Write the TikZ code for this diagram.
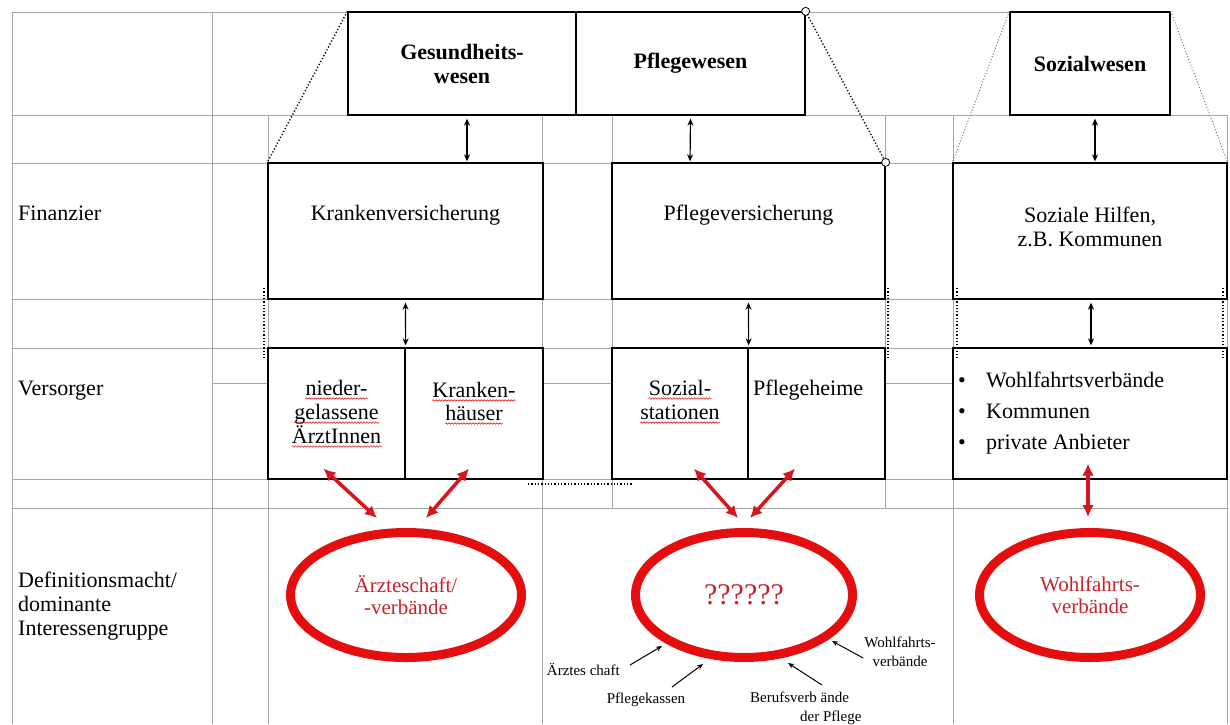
\documentclass[tikz,border=0pt]{standalone}
\usepackage{fontspec}
\setmainfont{Liberation Serif}
\usetikzlibrary{arrows.meta,shapes.geometric,decorations.pathmorphing}
\definecolor{ovred}{RGB}{228,14,14}
\definecolor{arrred}{RGB}{214,22,30}
\definecolor{txtred}{RGB}{200,34,42}
\tikzset{
  tabline/.style={black!35, line width=0.9pt},
  box/.style={draw, line width=1.3pt, inner sep=0pt},
  lbl/.style={font=\fontsize{22}{24}\selectfont, inner sep=0pt},
  hd/.style={font=\fontsize{22}{24}\selectfont\bfseries, align=center},
  sm/.style={font=\fontsize{15}{19}\selectfont, inner sep=0pt},
  ov/.style={ellipse, draw=ovred, line width=9pt, inner sep=0pt, text=txtred, align=center, font=\fontsize{21}{22}\selectfont},
  rarr/.style={arrred, line width=3.5pt, <->, >={Latex[length=12pt,width=12pt]}},
  dbl/.style={line width=1.2pt, <->, >={Stealth[length=7pt,width=6pt]}},
  sarr/.style={line width=1pt, ->, >={Stealth[length=6pt,width=5pt]}},
  dotln/.style={line width=1.3pt, dotted},
  lightdot/.style={black!55, line width=1pt, dotted},
  squig/.style={red!85!black, line width=0.5pt, decorate, decoration={snake, amplitude=0.8pt, segment length=3pt}}
}
\begin{document}
\begin{tikzpicture}[x=1pt, y=-1pt]
	%\draw[help lines] (0,0) grid[step=50] (1230,724);
	\useasboundingbox (0,0) rectangle (1230,724);
	\fill[white] (0,0) rectangle (1230,724);
	\draw[tabline] (12,12) -- (1010,12);
	\foreach \y in {115,163,299,348,479,508}
		\draw[tabline] (12,\y) -- (1227,\y);
	\foreach \x in {12,212}
		\draw[tabline] (\x,12) -- (\x,724);
	\foreach \x in {268,542,953,1227}
		\draw[tabline] (\x,115) -- (\x,724);
	\foreach \x in {612,885}
		\draw[tabline] (\x,115) -- (\x,508);
	\foreach \a/\b in {212/268,543/612,885/953}
		\draw[tabline] (\a,383) -- (\b,383);

	\node[lbl, anchor=base west] (fin) at (18,220) {Finanzier};
	\node[lbl, anchor=base west] (vers) at (18,395) {Versorger};
	\node[lbl, anchor=north west, align=left] (defm) at (18,572) {Definitionsmacht/\\dominante\\Interessengruppe};

	\node[box, hd, minimum width=228pt, minimum height=103pt] (gesund) at (462,63.5) {Gesundheits-\\wesen};
	\node[box, hd, minimum width=229pt, minimum height=103pt] (pflw) at (690.5,63.5) {Pflegewesen};
	\node[box, hd, minimum width=160pt, minimum height=103pt] (sozw) at (1090,63.5) {Sozialwesen};

	\node[box, minimum width=275pt, minimum height=136pt] (kv) at (405.5,231) {};
	\node[box, minimum width=273pt, minimum height=136pt] (pv) at (748.5,231) {};
	\node[box, minimum width=274pt, minimum height=136pt] (sh) at (1090,231) {};
	\node[lbl, anchor=base] (kvt) at (405.5,220) {Krankenversicherung};
	\node[lbl, anchor=base] (pvt) at (748.5,220) {Pflegeversicherung};
	\node[lbl, anchor=north, align=center] (sht) at (1090,207) {Soziale Hilfen,\\z.B. Kommunen};

	\node[box, minimum width=137pt, minimum height=131pt] (vnied) at (336.5,413.5) {};
	\node[box, minimum width=138pt, minimum height=131pt] (vkh) at (474,413.5) {};
	\node[box, minimum width=136pt, minimum height=131pt] (vsoz) at (680,413.5) {};
	\node[box, minimum width=137pt, minimum height=131pt] (vheim) at (816.5,413.5) {};
	\node[box, minimum width=274pt, minimum height=131pt] (vfrei) at (1090,413.5) {};
	\foreach \t/\x/\y/\n in {nieder-/336.5/395/nd1, gelassene/336.5/419/nd2, ÄrztInnen/336.5/443/nd3,
			Kranken-/474/397/kh1, häuser/474/420/kh2, Sozial-/680/395/ss1, stationen/680/419/ss2}
	{
		\node[lbl, anchor=base] (\n) at (\x,\y) {\t};
		\draw[squig] ([yshift=-3.5pt]\n.base west) -- ([yshift=-3.5pt]\n.base east);
	}
	\node[lbl, anchor=base west] (heim) at (753,395) {Pflegeheime};
	\foreach \t [count=\i] in {Wohlfahrtsverbände,Kommunen,private Anbieter}
	{
		\node[lbl, anchor=base] (bul\i) at (962,{356+31*\i}) {\textbullet};
		\node[lbl, anchor=base west] (anb\i) at (986,{356+31*\i}) {\t};
	}

	\draw[dbl] ([shift={(5,3)}]gesund.south) -- ([shift={(61.5,-1)}]kv.north);
	\draw[dbl] ([shift={(0,3)}]pflw.south) -- ([shift={(-58.5,-1)}]pv.north);
	\draw[dbl] ([shift={(5,3)}]sozw.south) -- ([shift={(5,-1)}]sh.north);
	\draw[dbl] ([shift={(0,3)}]kv.south) -- ([shift={(0,-2)}]vnied.north east);
	\draw[dbl] ([shift={(0,3)}]pv.south) -- ([shift={(0,-2)}]vsoz.north east);
	\draw[dbl] ([shift={(1,3)}]sh.south) -- ([shift={(1,-2)}]vfrei.north);

	\draw[dotln] (gesund.north west) -- (kv.north west);
	\draw[dotln] (pflw.north east) -- (pv.north east);
	\foreach \p in {pflw.north east, pv.north east}
		\draw[fill=white, line width=0.8pt] (\p) circle (4);
	\draw[lightdot] (sozw.north west) -- (sh.north west);
	\draw[lightdot] (sozw.north east) -- (sh.north east);
	\foreach \x in {264,888,957,1223}
		\draw[dotln] (\x,288) -- (\x,358);
	\draw[dotln] (528,484) -- (633,484);

	\node[ov, minimum width=231pt, minimum height=125pt] (aerzte) at (406,595) {Ärzteschaft/\\-verbände};
	\node[ov, minimum width=217pt, minimum height=125pt, font=\fontsize{30}{32}\selectfont] (unklar) at (744,595) {??????};
	\node[ov, minimum width=221pt, minimum height=125pt] (wohl) at (1090,595) {Wohlfahrts-\\verbände};

	\draw[rarr] ([shift={(-29,-10)}]aerzte.north) -- ([shift={(-13,-11)}]vnied.south);
	\draw[rarr] ([shift={(20,-10)}]aerzte.north) -- ([shift={(-5,-11)}]vkh.south);
	\draw[rarr] ([shift={(-6,-10)}]unklar.north) -- ([shift={(14,-11)}]vsoz.south);
	\draw[rarr] ([shift={(6,-10)}]unklar.north) -- ([shift={(-21.5,-11)}]vheim.south);
	\draw[rarr] ([shift={(-2,-11)}]wohl.north) -- ([shift={(-2,-16)}]vfrei.south);

	\node[sm, anchor=base east] (laer) at (620,675) {Ärztes chaft};
	\node[sm, anchor=base] (lpk) at (646,703) {Pflegekassen};
	\node[sm, anchor=north west, align=left] (lbv) at (750,692) {Berufsverb ände\\\hspace*{50pt}der Pflege};
	\node[sm, anchor=north, align=center] (lwf) at (900,637) {Wohlfahrts-\\verbände};
	\draw[sarr] ([shift={(10,-10)}]laer.base east) -- ([shift={(-82,51)}]unklar.center);
	\draw[sarr] ([shift={(26,-16)}]lpk.base) -- ([shift={(-41,69)}]unklar.center);
	\draw[sarr] ([shift={(72,-7)}]lbv.north west) -- ([shift={(44,68)}]unklar.center);
	\draw[sarr] ([shift={(-1,21)}]lwf.north west) -- ([shift={(88,46)}]unklar.center);
\end{tikzpicture}
\end{document}
